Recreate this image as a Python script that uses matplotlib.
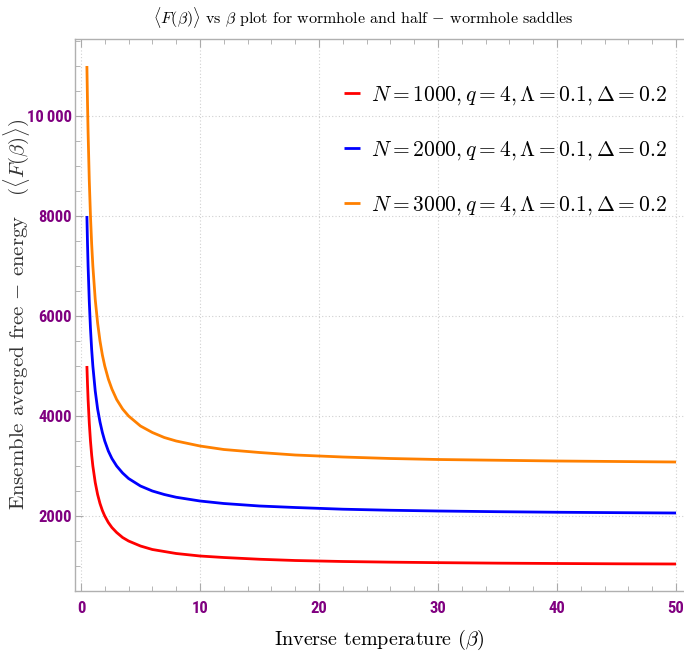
import matplotlib
matplotlib.use("Agg")
import matplotlib.pyplot as plt
from matplotlib.ticker import MultipleLocator, FixedLocator
from matplotlib.font_manager import FontProperties

plt.rcParams['mathtext.fontset'] = 'cm'
plt.rcParams['font.family'] = 'serif'
plt.rcParams['font.serif'] = ['cmr10', 'DejaVu Serif']
plt.rcParams['axes.formatter.use_mathtext'] = True

# inverse temperature samples
beta = [0.5, 0.55, 0.6, 0.7, 0.8, 0.9, 1.0, 1.2, 1.4, 1.6, 1.8, 2.0, 2.3, 2.6, 3.0,
        3.5, 4.0, 5.0, 6.0, 7.0, 8.0, 10, 12, 15, 18, 22, 26, 30, 35, 40, 45, 50]

# ensemble averaged free energy for each N
F_1000 = [5000, 4640, 4330, 3860, 3500, 3220, 3000, 2670, 2430, 2250, 2110, 2000, 1870,
          1770, 1670, 1570, 1500, 1400, 1330, 1290, 1250, 1200, 1170, 1135, 1110, 1090,
          1077, 1067, 1057, 1050, 1044, 1040]
F_2000 = [8000, 7450, 7000, 6290, 5750, 5330, 5000, 4500, 4140, 3880, 3670, 3500, 3300,
          3150, 3000, 2860, 2750, 2600, 2500, 2430, 2375, 2300, 2250, 2200, 2170, 2136,
          2115, 2100, 2086, 2075, 2067, 2060]
F_3000 = [11000, 10270, 9670, 8710, 8000, 7440, 7000, 6330, 5860, 5500, 5220, 5000, 4740,
          4540, 4330, 4140, 4000, 3800, 3670, 3570, 3500, 3400, 3330, 3270, 3220, 3180,
          3150, 3130, 3115, 3100, 3090, 3080]

labels = [r'$N=1000,q=4,\Lambda=0.1,\Delta=0.2$',
          r'$N=2000,q=4,\Lambda=0.1,\Delta=0.2$',
          r'$N=3000,q=4,\Lambda=0.1,\Delta=0.2$']
colors = ['#ff0000', '#0000ff', '#ff8000']

x_ticks = [0, 10, 20, 30, 40, 50]
y_ticks = [2000, 4000, 6000, 8000, 10000]
y_tick_labels = ['2000', '4000', '6000', '8000', '10\u2009000']

fig = plt.figure(figsize=(6.84, 6.58), dpi=100)
ax = fig.add_axes([75 / 684, 1 - 591 / 658, 609 / 684, 552 / 658])

for F, lab, c in zip([F_1000, F_2000, F_3000], labels, colors):
    ax.plot(beta, F, color=c, lw=2.0, label=lab, solid_capstyle='butt')

ax.set_xlim(-0.5, 50.67)
ax.set_ylim(500, 11540)

ax.xaxis.set_major_locator(FixedLocator(x_ticks))
ax.xaxis.set_minor_locator(MultipleLocator(2))
ax.yaxis.set_major_locator(FixedLocator(y_ticks))
ax.yaxis.set_minor_locator(MultipleLocator(500))
ax.set_xticklabels([str(t) for t in x_ticks])
ax.set_yticklabels(y_tick_labels)

tick_fp = FontProperties(family=['Roboto Condensed', 'Liberation Sans Narrow', 'Roboto', 'DejaVu Sans'],
                         weight='bold', size=12)
for t in ax.get_xticklabels() + ax.get_yticklabels():
    t.set_fontproperties(tick_fp)
    t.set_color('#800080')

ax.tick_params(which='both', direction='in', color='#aaaaaa', top=True, right=False)
ax.tick_params(which='major', length=6, width=0.8)
ax.tick_params(which='minor', length=3.5, width=0.6)
ax.tick_params(axis='y', which='major', pad=2)
ax.tick_params(axis='x', which='major', pad=7)

for s in ['left', 'bottom', 'top']:
    ax.spines[s].set_color('#b0b0b0')
    ax.spines[s].set_linewidth(1.0)
ax.spines['right'].set_visible(False)

ax.grid(True, which='major', ls=(0, (1, 2)), color='#d0d0d0', lw=0.8)

fig.text(363 / 684, 1 - 17 / 658,
         r'$\langle F(\beta)\rangle$ vs $\beta$ plot for wormhole and half $-$ wormhole saddles',
         fontsize=11.5, ha='center', va='center')
ax.set_xlabel(r'Inverse temperature $(\beta)$', fontsize=14.5, labelpad=9)
fig.text(17 / 684, 1 - 314 / 658,
         r'Ensemble averged free $-$ energy   $(\langle F(\beta)\rangle)$',
         fontsize=15, color='#333333', rotation=90, ha='center', va='center')

ax.legend(loc='upper left', bbox_to_anchor=(0.442, 0.918), frameon=False, fontsize=15.5,
          borderpad=0, borderaxespad=0, handlelength=0.75, handletextpad=0.5,
          labelspacing=1.5)

fig.savefig('out.png', dpi=100)
